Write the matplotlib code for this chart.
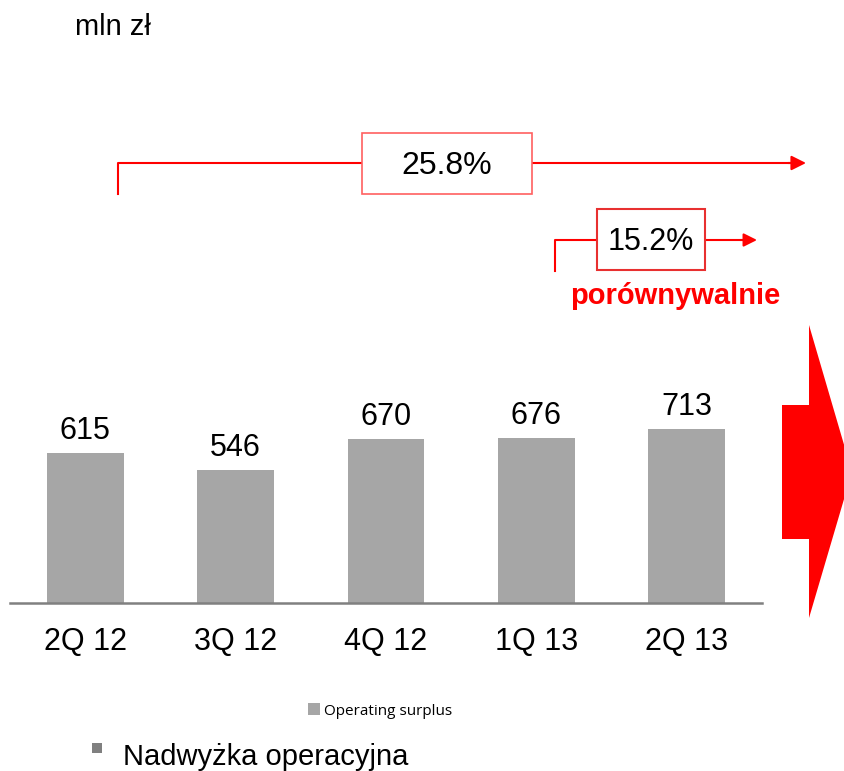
import matplotlib
matplotlib.use("Agg")
import matplotlib.pyplot as plt
from matplotlib.patches import Polygon, Rectangle

# data
quarters = ["2Q 12", "3Q 12", "4Q 12", "1Q 13", "2Q 13"]
surplus = [615, 546, 670, 676, 713]
growth_total = "25.8%"
growth_comparable = "15.2%"

plt.rcParams['font.family'] = ['Liberation Sans', 'DejaVu Sans']

W, H = 845, 771
fig = plt.figure(figsize=(W / 100, H / 100), dpi=100)

# main bar axes (pixel box: x 10..762, baseline at y=603)
ax = fig.add_axes([10 / W, (H - 603) / H, 752 / W, 273 / H])
bars = ax.bar(range(len(quarters)), surplus, width=0.51, color='#A6A6A6',
              label='Operating surplus')
ax.set_xlim(-0.5, len(quarters) - 0.5)
ax.set_ylim(0, 273 / 0.2445)
ax.bar_label(bars, labels=[str(v) for v in surplus], padding=5, fontsize=22)
ax.set_xticks(range(len(quarters)))
ax.set_xticklabels(quarters, fontsize=22)
ax.tick_params(axis='x', length=0, pad=17)
ax.set_yticks([])
for s in ['top', 'left', 'right']:
    ax.spines[s].set_visible(False)
ax.spines['bottom'].set_color('#808080')
ax.spines['bottom'].set_linewidth(1.8)

leg = ax.legend(loc='center', bbox_to_anchor=(380 / W, (H - 711) / H),
                bbox_transform=fig.transFigure, frameon=False,
                prop={'family': 'Open Sans', 'size': 11},
                handlelength=0.8, handleheight=0.8, handletextpad=0.3)

# overlay in pixel coordinates for the annotations
ov = fig.add_axes([0, 0, 1, 1], zorder=5)
ov.set_xlim(0, W)
ov.set_ylim(H, 0)
ov.axis('off')
ov.patch.set_alpha(0)

ov.text(75, 27, "mln zł", fontsize=21, va='center', ha='left')

red = '#FF0000'
# 25.8% growth bracket
ov.plot([118, 118, 792], [194, 163, 163], color=red, lw=1.5)
ov.annotate('', xy=(806, 163), xytext=(788, 163),
            arrowprops=dict(arrowstyle='-|>', color=red, lw=1.5,
                            mutation_scale=22, shrinkA=0, shrinkB=0))
ov.add_patch(Rectangle((362, 133), 170, 61, facecolor='white',
                       edgecolor='#FF6060', lw=1.2, zorder=3))
ov.text(447, 166, growth_total, fontsize=23, ha='center', va='center', zorder=4)

# 15.2% comparable bracket
ov.plot([555, 555, 745], [271, 240, 240], color=red, lw=1.5)
ov.annotate('', xy=(757, 240), xytext=(740, 240),
            arrowprops=dict(arrowstyle='-|>', color=red, lw=1.5,
                            mutation_scale=20, shrinkA=0, shrinkB=0))
ov.add_patch(Rectangle((597, 209), 108, 61, facecolor='white',
                       edgecolor='#E83030', lw=1.5, zorder=3))
ov.text(651, 242, growth_comparable, fontsize=22, ha='center', va='center', zorder=4)
ov.text(675, 296, "porównywalnie", fontsize=21, fontweight='bold', color=red,
        ha='center', va='center')

# big red arrow on the right edge
ov.add_patch(Polygon([(782, 405), (809, 405), (809, 325), (852, 472),
                      (809, 618), (809, 539), (782, 539)],
                     closed=True, facecolor=red, edgecolor='none'))

# bullet caption
ov.add_patch(Rectangle((92, 743), 10, 10, facecolor='#808080', edgecolor='none'))
ov.text(123, 757, "Nadwyżka operacyjna", fontsize=21, ha='left', va='center')

fig.savefig("out.png", dpi=100)
